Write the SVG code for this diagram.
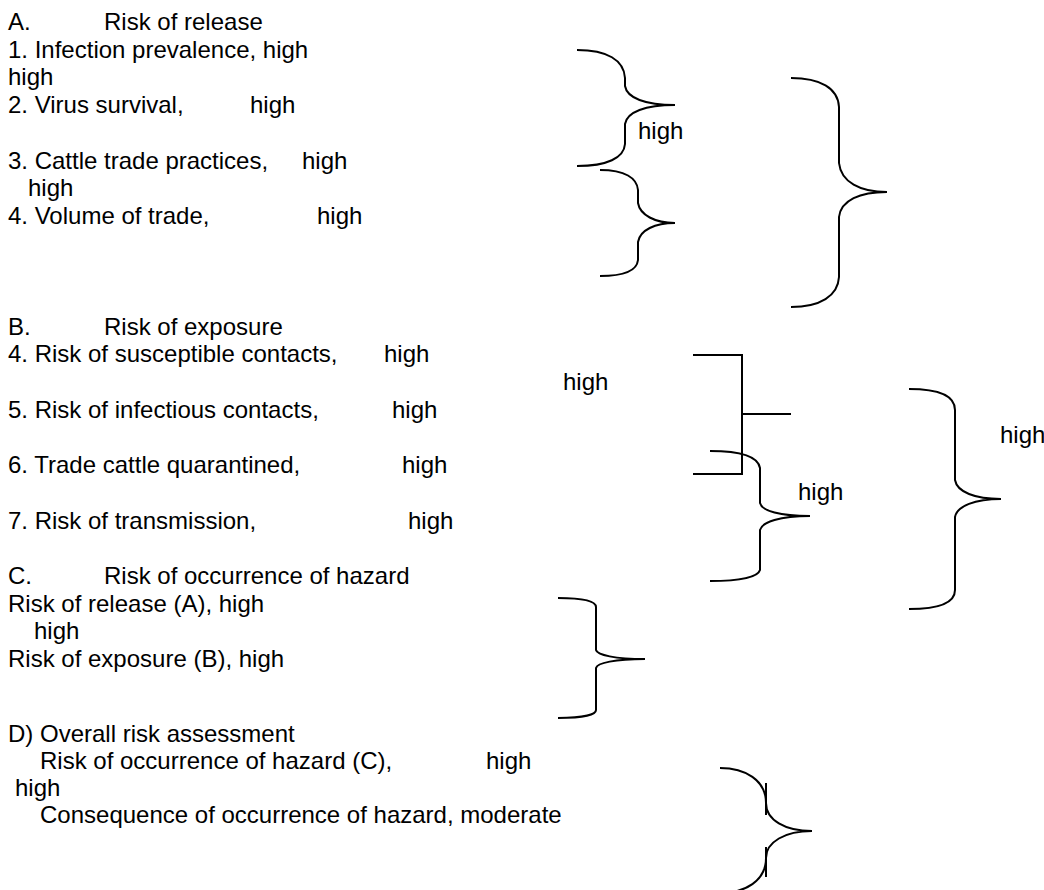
<svg xmlns="http://www.w3.org/2000/svg" width="1044" height="890" viewBox="0 0 1044 890">
<style>
text{font-family:"Liberation Sans",Arial,sans-serif;font-size:24px;fill:#000}
.br{fill:none;stroke:#000;stroke-width:2}
</style>
<rect width="1044" height="890" fill="#fff"/>
<g id="sectionA">
<text x="8" y="30">A.</text><text x="104" y="30">Risk of release</text>
<text x="8" y="57.7">1. Infection prevalence, high</text>
<text x="8" y="85.4">high</text>
<text x="8" y="113.1">2. Virus survival,</text><text x="250" y="113.1">high</text>
<text x="8" y="168.5">3. Cattle trade practices,</text><text x="302" y="168.5">high</text>
<text x="28" y="196.2">high</text>
<text x="8" y="223.9">4. Volume of trade,</text><text x="317" y="223.9">high</text>
</g>
<g id="sectionB">
<text x="8" y="334.7">B.</text><text x="104" y="334.7">Risk of exposure</text>
<text x="8" y="362.4">4. Risk of susceptible contacts,</text><text x="384" y="362.4">high</text>
<text x="563" y="390">high</text>
<text x="8" y="417.8">5. Risk of infectious contacts,</text><text x="392" y="417.8">high</text>
<text x="8" y="473.2">6. Trade cattle quarantined,</text><text x="402" y="473.2">high</text>
<text x="8" y="528.6">7. Risk of transmission,</text><text x="408" y="528.6">high</text>
</g>
<g id="sectionC">
<text x="8" y="584">C.</text><text x="104" y="584">Risk of occurrence of hazard</text>
<text x="8" y="611.7">Risk of release (A), high</text>
<text x="34" y="639.4">high</text>
<text x="8" y="667.1">Risk of exposure (B), high</text>
</g>
<g id="sectionD">
<text x="8" y="742">D) Overall risk assessment</text>
<text x="40" y="769">Risk of occurrence of hazard (C),</text><text x="486" y="769">high</text>
<text x="15" y="796">high</text>
<text x="40" y="823">Consequence of occurrence of hazard, moderate</text>
</g>
<g id="labels">
<text x="638" y="139">high</text>
<text x="798" y="500">high</text>
<text x="1000" y="443">high</text>
</g>
<g id="connectors">
<path id="braceA1" class="br" d="M577,50 C607,50 624,60 625,78 L625,86 C627,98 645,105 675,105 C645,105 627,112 625,124 L625,144 C624,158 607,166 577,166"/>
<path id="braceA2" class="br" d="M600,170 C625,170 637,178 638,190 L638,203 C640,215 655,223 675,223 C655,223 640,230 638,242 L638,260 C637,270 625,276 600,276"/>
<path id="braceA3" class="br" d="M791,78 C820,78 838,88 839,107 L839,163 C841,182 860,192 887,192 C860,192 841,200 839,217 L839,277 C838,296 820,307 791,307"/>
<path id="bracketB1" class="br" d="M693,355 L742,355 L742,474 L693,474 M742,414 L791,414"/>
<path id="braceB2" class="br" d="M710,451 C740,451 758,456 760,468 L760,503 C762,511 780,516 810,516 C780,516 762,522 760,530 L760,570 C758,577 740,581 710,581"/>
<path id="braceB3" class="br" d="M909,389 C940,389 955,396 955,410 L955,480 C957,492 975,499 1001,499 C975,499 957,506 955,517 L955,590 C955,602 940,609 909,609"/>
<path id="braceC" class="br" d="M558,598 C585,598 596,601 596,607 L596,650 C597,655 615,659 645,659 C615,659 597,663 596,668 L596,710 C596,714 585,718 558,718"/>
<path id="braceD" class="br" d="M720,768 C745,768 766,780 766,803 C766,820 785,831 812,831 C785,831 766,842 766,858 C766,881 745,893 720,893 M766,783 L766,815 M766,847 L766,877"/>
</g>
</svg>
